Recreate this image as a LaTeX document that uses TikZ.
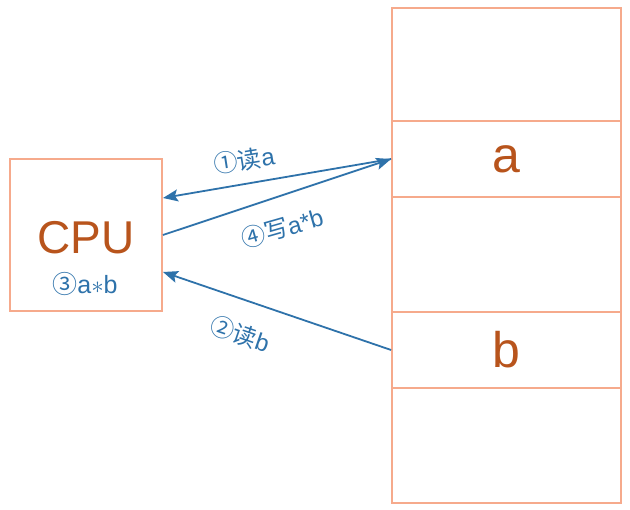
\documentclass[tikz,border=0pt]{standalone}
\usepackage{fontspec}
\setmainfont{Liberation Sans}
\newfontfamily\cjk{Noto Sans CJK SC}
\usepackage{xcolor}
\usetikzlibrary{arrows.meta}
\definecolor{boxline}{HTML}{F6AA8C}
\definecolor{cputext}{HTML}{B8541C}
\definecolor{flow}{HTML}{2E72AA}
\tikzset{box/.style={draw=boxline,line width=1.8pt,minimum width=229pt,inner sep=0pt},
    cell/.style={box,font=\fontsize{50}{50}\selectfont,text=cputext},
    lbl/.style={text=flow,font=\fontsize{24}{24}\selectfont,inner sep=0pt},
    move/.style={draw=flow,line width=1.8pt,-{Stealth[length=15pt,width=12pt,inset=3pt]}}}

\begin{document}
\begin{tikzpicture}[x=1pt,y=-1pt]
            \useasboundingbox (0,0) rectangle (630,510);
            % memory
            \node[cell,minimum height=113pt] (m0) at (506.5,64.5) {};
            \node[cell,minimum height=76pt] (ma) at (506.5,159) {a};
            \node[cell,minimum height=115pt] (m2) at (506.5,254.5) {};
            \node[cell,minimum height=76pt] (mb) at (506.5,350) {b};
            \node[cell,minimum height=115pt] (m4) at (506.5,445.5) {};
            % cpu
            \node[box,minimum width=152pt,minimum height=152pt] (cpu) at (86,235) {};
            \node[text=cputext,font=\fontsize{46}{46}\selectfont] (cpuname) at (86,238) {CPU};
            \node[lbl,font=\fontsize{25}{25}\selectfont] (mul) at (85,284) {{\cjk ③}a$*$b};
            \coordinate (ra) at (163,198);
            \coordinate (rb) at (163,272);
            \draw[move] (ma.west) -- (ra);
            \draw[move] (cpu.east) -- (ma.west);
            \draw[move] (mb.west) -- (rb);
            % labels
            \node[lbl,rotate=9] (rda) at (244,160) {{\cjk ①读}a};
            \node[lbl,rotate=16] (wrt) at (282,228) {{\cjk ④写}a*b};
            \node[lbl,rotate=-19] (rdb) at (240,334) {{\cjk ②读}b};
        \end{tikzpicture}
\end{document}
